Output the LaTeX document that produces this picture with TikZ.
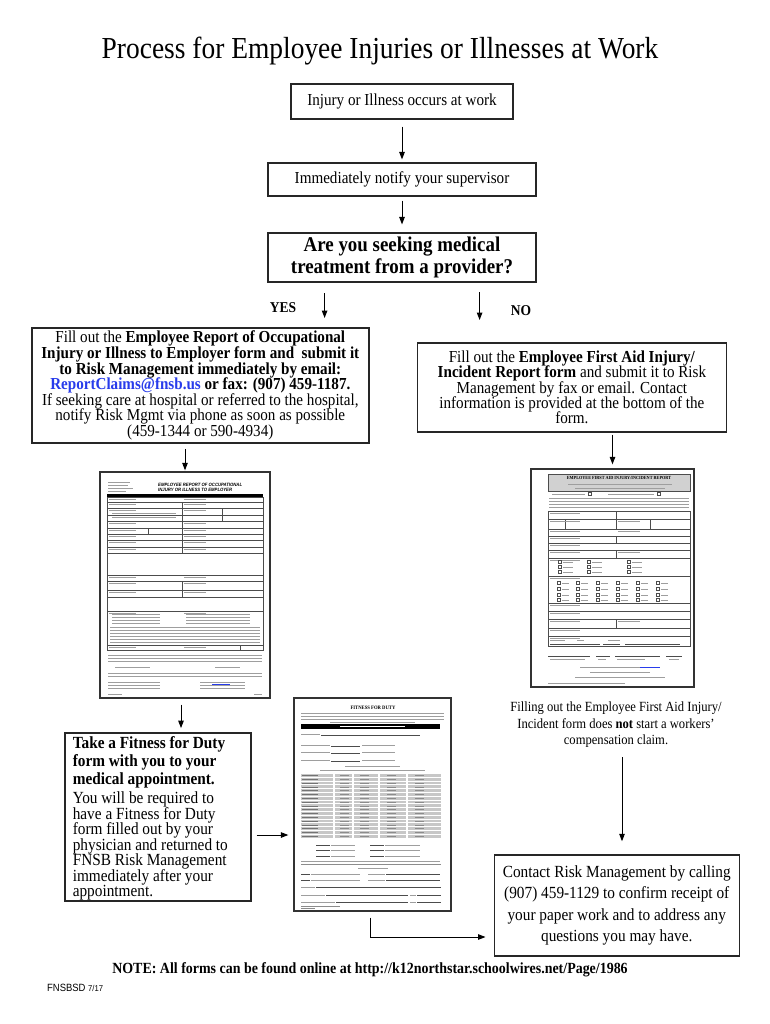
\documentclass[tikz,border=0pt]{standalone}
\usepackage{fontspec}
\setmainfont{Liberation Serif}[FakeStretch=0.9]
\newfontfamily\sansf{Liberation Sans}[FakeStretch=0.9]
\usetikzlibrary{arrows.meta}
\definecolor{maillink}{RGB}{40,60,235}
\newcommand{\bodyfont}{\fontsize{16.8}{15.6}\selectfont}
\begin{document}
\lineskiplimit=-100pt
\begin{tikzpicture}[x=1pt,y=-1pt,
  arr/.style={-{Triangle[length=7.5pt,width=5.5pt]}, line width=1pt},
  flowbox/.style={draw=black!85, line width=1.1pt, inner sep=0pt, align=center},
  heavybox/.style={flowbox, line width=1.8pt},
  formframe/.style={draw=black!80, line width=1.3pt, fill=white, inner sep=0pt},
  txt/.style={draw=black!38, line width=0.9pt},
  rule/.style={draw=black!70, line width=0.45pt},
  tiny/.style={inner sep=0pt, font=\sansf\bfseries\fontsize{4.6}{5}\selectfont}
]
\useasboundingbox (0,0) rectangle (770,1024);
\fill[white] (0,0) rectangle (770,1024);

% ---------------- title and top flow ----------------
\node[font=\fontsize{30.5}{36}\selectfont] (title) at (380,51) {Process for Employee Injuries or Illnesses at Work};

\node[flowbox, minimum width=222pt, minimum height=35pt, font=\bodyfont] (occur) at (402,101.5) {Injury or Illness occurs at work};
\node[flowbox, minimum width=268pt, minimum height=33pt, font=\bodyfont] (notify) at (402,179.5) {Immediately notify your supervisor};
\node[flowbox, minimum width=268pt, minimum height=49pt, font=\bfseries\fontsize{21}{21.5}\selectfont] (ask) at (402,257.5) {Are you seeking medical\\treatment from a provider?};

\draw[arr, shorten <=7pt, shorten >=3pt] (occur.south) -- (notify.north);
\draw[arr, shorten <=4pt, shorten >=8pt] (notify.south) -- (ask.north);

\coordinate (yesA) at (324.6,293);
\coordinate (yesB) at (324.6,318);
\coordinate (noA) at (479.6,292);
\coordinate (noB) at (479.6,320);
\draw[arr] (yesA) -- (yesB);
\draw[arr] (noA) -- (noB);
\node[font=\bfseries\fontsize{15}{18}\selectfont] (yeslbl) at (283,308) {YES};
\node[font=\bfseries\fontsize{15}{18}\selectfont] (nolbl) at (521,311) {NO};

% ---------------- YES / NO boxes ----------------
\node[heavybox, minimum width=337pt, minimum height=115pt, font=\bodyfont] (yesbox) at (200.3,385.5)
 {Fill out the \textbf{Employee Report of Occupational}\\
  \textbf{Injury or Illness to Employer form and\ \ submit it}\\
  \textbf{to Risk Management immediately by email:}\\
  \textcolor{maillink}{\textbf{ReportClaims@fnsb.us}} \textbf{or fax: (907) 459-1187.}\\
  If seeking care at hospital or referred to the hospital,\\
  notify Risk Mgmt via phone as soon as possible\\
  (459-1344 or 590-4934)};

\node[flowbox, minimum width=309pt, minimum height=89pt, font=\fontsize{16.8}{15.3}\selectfont] (nobox) at (571.9,387.5)
 {Fill out the \textbf{Employee First Aid Injury/}\\
  \textbf{Incident Report form} and submit it to Risk\\
  Management by fax or email. Contact\\
  information is provided at the bottom of the\\
  form.};

% ---------------- form thumbnails (frames) ----------------
\node[formframe, minimum width=170pt, minimum height=226pt] (form1) at (185,585) {};
\node[formframe, minimum width=163pt, minimum height=218pt] (form2) at (612.5,578) {};
\node[formframe, minimum width=157pt, minimum height=213pt] (form3) at (372.5,804.5) {};

\draw[arr, shorten <=5pt, shorten >=1pt] (yesbox.south -| form1.north) -- (form1.north);
\draw[arr, shorten <=2pt, shorten >=4pt] (nobox.south -| form2.north) -- (form2.north);

% ---- form 1 : employee report ----
\foreach \y/\b in {482/130,485/128,488/133,491/126} \draw[txt] (108,\y) -- (\b,\y);
\node[tiny, font=\sansf\bfseries\itshape\fontsize{4.7}{5}\selectfont, align=left, anchor=west] (f1title) at (158,487.5) {EMPLOYEE REPORT OF OCCUPATIONAL\\INJURY OR ILLNESS TO EMPLOYER};
\fill[black] (107,494) rectangle (263,497.5);
\draw[rule] (107,497.5) rectangle (263,650);
\foreach \y in {502,508,515,521,528,534,540,547,553,575,581,590,597,611,645}
  \draw[rule] (107,\y) -- (263,\y);
\draw[rule] (182,502) -- (182,553);
\draw[rule] (182,581) -- (182,597);
\draw[rule] (148,528) -- (148,534);
\draw[rule] (222,508) -- (222,521);
\draw[rule] (240,645) -- (240,650);
\foreach \y in {497.5,502,508,521,528,534,540,547,575,581,590,611,645}
  {\draw[txt] (109,\y+2.2) -- (136,\y+2.2); \draw[txt] (184,\y+2.2) -- (206,\y+2.2);}
\foreach \y in {513,517} \draw[txt] (112,\y) -- (176,\y);
\foreach \y in {614,617,620,623} {\draw[txt] (112,\y) -- (160,\y); \draw[txt] (186,\y) -- (250,\y);}
\foreach \y in {627,630,633,636,639,642} \draw[txt] (110,\y) -- (260,\y);
\foreach \y in {655,658,661,673,676} \draw[txt] (108,\y) -- (262,\y);
\draw[txt] (115,667) -- (150,667); \draw[txt] (215,667) -- (240,667);
\foreach \y in {682,685,688} {\draw[txt] (108,\y) -- (160,\y); \draw[txt] (200,\y) -- (245,\y);}
\draw[maillink, line width=0.9pt] (212,684.5) -- (230,684.5);
\draw[txt] (108,694) -- (122,694); \draw[txt] (254,694) -- (262,694);

% ---- form 2 : first aid report ----
\fill[black!18] (548,474) rectangle (690,491);
\draw[rule] (548,474) rectangle (690,491);
\node[inner sep=0pt, font=\bfseries\fontsize{4.7}{5}\selectfont] (f2title) at (619,478) {EMPLOYEE FIRST AID INJURY/INCIDENT REPORT};
\draw[txt] (568,484) -- (672,484); \draw[txt] (575,488) -- (665,488);
\draw[txt] (552,494) -- (585,494); \draw[rule] (588,492.5) rectangle (591,495.5);
\draw[txt] (608,494) -- (654,494); \draw[rule] (657,492.5) rectangle (660,495.5);
\foreach \y in {498,501,504,507} \draw[txt] (549,\y) -- (689,\y);
\draw[rule] (548,511) rectangle (690,646);
\foreach \y in {519,529,536,543,550,558,576,603,611,619,628,636}
  \draw[rule] (548,\y) -- (690,\y);
\draw[rule] (616,511) -- (616,529); \draw[rule] (616,536) -- (616,543);
\draw[rule] (616,550) -- (616,558); \draw[rule] (616,619) -- (616,628);
\draw[rule] (565,519) -- (565,529); \draw[rule] (650,519) -- (650,529);
\foreach \y in {511,519,529,536,543,550,558,576,603,611,619,628,636}
  {\draw[txt] (550,\y+2.2) -- (580,\y+2.2);}
\foreach \y in {519,529,550,619} \draw[txt] (618,\y+2.2) -- (640,\y+2.2);
\foreach \x in {558,587,627} \foreach \y in {562,567,572}
  {\draw[rule] (\x,\y-1.5) rectangle (\x+3,\y+1.5); \draw[txt] (\x+5,\y) -- (\x+15,\y);}
\foreach \x in {557,576,596,616,636,656} \foreach \y in {583,589,595,600}
  {\draw[rule] (\x,\y-1.5) rectangle (\x+3,\y+1.5); \draw[txt] (\x+5,\y) -- (\x+12,\y);}
\draw[txt] (550,640) -- (565,640); \draw[txt] (577,640) -- (584,640); \draw[txt] (608,640) -- (620,640);
\foreach \a/\b in {550/600,603/620,625/680} \draw[rule] (\a,644) -- (\b,644);
\foreach \a/\b in {548/590,596/610,615/660,666/682} \draw[rule] (\a,656) -- (\b,656);
\foreach \a/\b in {550/585,598/606,617/645,669/679} \draw[txt] (\a,659) -- (\b,659);
\draw[txt] (580,667) -- (640,667); \draw[maillink, line width=0.9pt] (640,667) -- (660,667);
\draw[txt] (590,672) -- (650,672); \draw[txt] (575,677) -- (665,677);
\draw[txt] (548,683) -- (625,683);

% ---- form 3 : fitness for duty ----
\node[inner sep=0pt, font=\bfseries\fontsize{5.2}{6}\selectfont] (f3title) at (373,708) {FITNESS FOR DUTY};
\foreach \y in {713,716,719} \draw[txt] (301,\y) -- (444,\y);
\draw[txt] (330,722) -- (415,722);
\fill[black] (301,724) rectangle (440,728.5);
\draw[white, line width=0.8pt] (340,726.3) -- (405,726.3);
\draw[txt] (301,734) -- (320,734); \draw[rule] (321,735) -- (420,735);
\foreach \y in {745,752,760} {\draw[txt] (301,\y) -- (330,\y); \draw[rule] (331,\y+1) -- (360,\y+1); \draw[txt] (362,\y) -- (395,\y);}
\draw[txt] (345,766) -- (400,766); \draw[txt] (320,770) -- (425,770);
\foreach \i in {0,...,16} {
  \pgfmathsetmacro{\yy}{774+\i*3.8}
  \fill[black!22] (301,\yy) rectangle (441,\yy+2.8);
}
\foreach \x in {334,353,379,407} \draw[white, line width=1.2pt] (\x,773) -- (\x,838);
\foreach \i in {0,...,16} {
  \pgfmathsetmacro{\yy}{775.4+\i*3.8}
  \draw[black!55, line width=0.6pt] (302,\yy) -- (318,\yy);
  \foreach \x in {340,360,387,415} \draw[black!45, line width=0.5pt] (\x,\yy) -- (\x+9,\yy);
}
\foreach \y in {845,850,856}
  {\draw[rule] (316,\y) -- (330,\y); \draw[txt] (331,\y) -- (355,\y);
   \draw[rule] (370,\y) -- (384,\y); \draw[txt] (385,\y) -- (420,\y);}
\draw[txt] (301,861) -- (440,861);
\draw[black!45, line width=0.5pt] (301,864) -- (441,864);
\draw[txt] (358,868) -- (388,868);
\foreach \y in {874,880} {\draw[rule] (301,\y) -- (310,\y); \draw[txt] (311,\y) -- (360,\y); \draw[txt] (368,\y) -- (385,\y); \draw[rule] (386,\y) -- (440,\y);}
\draw[txt] (301,887) -- (315,887); \draw[rule] (316,887) -- (441,887);
\draw[txt] (301,895) -- (325,895); \draw[rule] (326,895) -- (408,895); \draw[txt] (410,895) -- (416,895); \draw[rule] (417,895) -- (441,895);
\draw[txt] (301,902) -- (335,902); \draw[rule] (336,902) -- (408,902); \draw[txt] (410,902) -- (416,902); \draw[rule] (417,902) -- (441,902);
\draw[black!45, line width=0.5pt] (301,906) -- (340,906);
\draw[black!45, line width=0.5pt] (301,908.5) -- (315,908.5);

% ---------------- right column text and contact box ----------------
\node[font=\fontsize{14}{16.5}\selectfont, align=center] (notwc) at (616,725)
 {Filling out the Employee First Aid Injury/\\Incident form does \textbf{not} start a workers’\\compensation claim.};

\node[flowbox, line width=1.4pt, minimum width=245pt, minimum height=101pt, font=\fontsize{17}{21.3}\selectfont] (contact) at (616.75,905.5)
 {Contact Risk Management by calling\\(907) 459-1129 to confirm receipt of\\your paper work and to address any\\questions you may have.};

\draw[arr, shorten <=6pt, shorten >=13pt] ([xshift=6pt]notwc.south) -- ([xshift=5.25pt]contact.north);

% ---------------- fitness for duty box ----------------
\node[heavybox, minimum width=185.6pt, minimum height=168pt] (fitbox) at (157.8,817) {};
\node[anchor=west, align=left, inner sep=0pt, font=\fontsize{17}{15.5}\selectfont] (fittext) at ([xshift=8.5pt,yshift=-1.5pt]fitbox.west)
 {\textbf{Take a Fitness for Duty}\\[2.8pt]
  \textbf{form with you to your}\\[2.8pt]
  \textbf{medical appointment.}\\[3.5pt]
  You will be required to\\
  have a Fitness for Duty\\
  form filled out by your\\
  physician and returned to\\
  FNSB Risk Management\\
  immediately after your\\
  appointment.};

\draw[arr, shorten <=6pt, shorten >=4pt] ([xshift=-4pt]form1.south) -- ([xshift=-4pt]form1.south |- fitbox.north);
\draw[arr, shorten <=5pt, shorten >=5pt] ([yshift=-18pt]fitbox.east) -- ([yshift=-18pt]fitbox.east -| form3.west);
\draw[arr, shorten >=8pt] ([xshift=-2.5pt,yshift=-6pt]form3.south) |- ([yshift=-31.5pt]contact.west);

% ---------------- footer ----------------
\node[font=\bfseries\fontsize{15.5}{18}\selectfont] (note) at (370,970) {NOTE: All forms can be found online at http://k12northstar.schoolwires.net/Page/1986};
\node[anchor=west, inner sep=0pt, font=\sansf\fontsize{10.5}{12}\selectfont] (code) at (47,988) {FNSBSD {\fontsize{8.5}{10}\selectfont 7/17}};
\end{tikzpicture}
\end{document}
